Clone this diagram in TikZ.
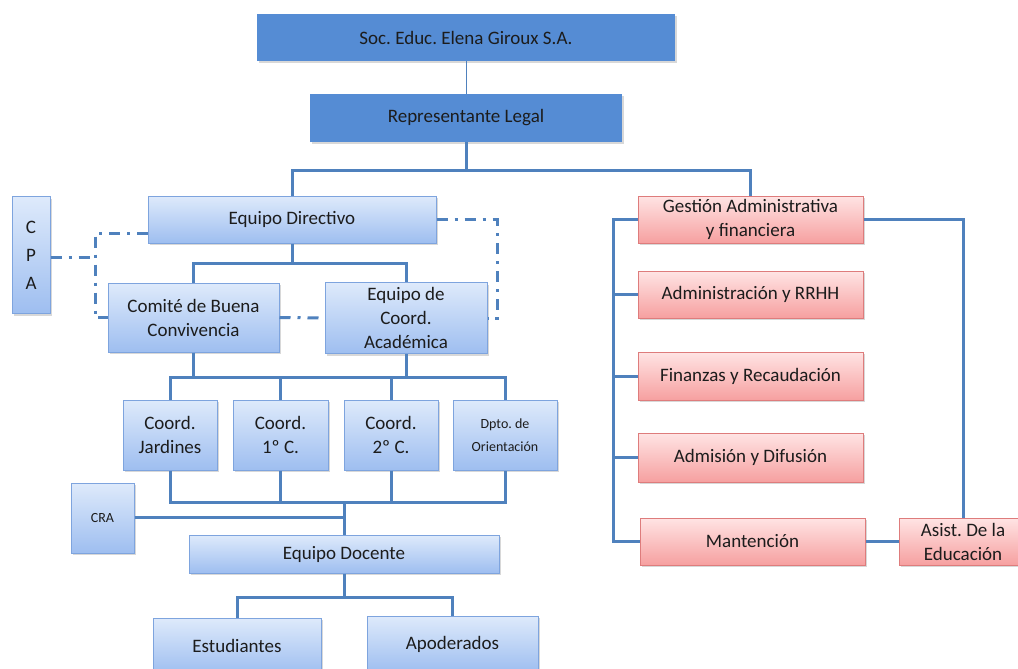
\documentclass[tikz,border=0pt]{standalone}
\usepackage{fontspec}
\setmainfont{Carlito}
\usetikzlibrary{shadows}
\frenchspacing
\definecolor{txtgray}{RGB}{28,28,28}
\definecolor{topblue}{RGB}{85,140,212}
\definecolor{lineblue}{RGB}{79,129,189}
\definecolor{ltop}{RGB}{222,234,251}
\definecolor{lbot}{RGB}{158,190,240}
\definecolor{ldraw}{RGB}{126,164,222}
\definecolor{rtop}{RGB}{255,228,228}
\definecolor{rbot}{RGB}{246,160,160}
\definecolor{rdraw}{RGB}{222,124,124}

\begin{document}
\begin{tikzpicture}[x=1pt,y=-1pt,
    every node/.style={text=txtgray,font=\fontsize{19}{24}\selectfont,
                       align=center,inner sep=0pt},
    shade/.style={drop shadow={opacity=0.3,shadow xshift=2pt,shadow yshift=-2pt}},
    topbox/.style={fill=topblue,shade,minimum height=47pt},
    bluebox/.style={top color=ltop,bottom color=lbot,draw=ldraw,line width=1pt,shade},
    redbox/.style={top color=rtop,bottom color=rbot,draw=rdraw,line width=1pt,shade,
                   minimum width=225pt,minimum height=47pt},
    small/.style={font=\fontsize{14}{23}\selectfont},
    conn/.style={draw=lineblue,line width=3pt},
    dashdot/.style={draw=lineblue,line width=3pt,
                    dash pattern=on 11pt off 7pt on 3pt off 7pt}]

  \fill[white] (0,0) rectangle (1018,669);
  \useasboundingbox (0,0) rectangle (1018,669);

  \node[topbox,minimum width=418pt] (soc)  at (466,37.5) {Soc. Educ. Elena Giroux S.A.};
  \node[topbox,minimum width=312pt,minimum height=48pt] (rl) at (466,118) {Representante Legal};

  \node[bluebox,minimum width=288pt,minimum height=47pt] (ed)   at (292,219.5) {Equipo Directivo};
  \node[bluebox,minimum width=38pt,minimum height=117pt,
        font=\fontsize{19}{28}\selectfont]               (cpa)  at (31,255)    {C\\P\\A};
  \node[bluebox,minimum width=171pt,minimum height=69pt] (cbc)  at (193.5,317.5) {Comité de Buena\\Convivencia};
  \node[bluebox,minimum width=162pt,minimum height=71pt] (eca)  at (406,318) {Equipo de\\Coord.\\Académica};

  \node[bluebox,minimum width=94pt,minimum height=70pt]  (cj)   at (170,435)   {Coord.\\Jardines};
  \node[bluebox,minimum width=95pt,minimum height=70pt]  (c1)   at (280.5,435) {Coord.\\1º C.};
  \node[bluebox,minimum width=94pt,minimum height=70pt]  (c2)   at (391,435)   {Coord.\\2º C.};
  \node[bluebox,small,minimum width=104pt,minimum height=70pt] (dpto) at (505,435) {Dpto. de\\Orientación};
  \node[bluebox,small,minimum width=63pt,minimum height=70pt]  (cra)  at (102.5,518) {CRA};
  \node[bluebox,minimum width=310pt,minimum height=38pt] (edoc) at (344,554)   {Equipo Docente};
  \node[bluebox,minimum width=168pt,minimum height=56pt] (est)  at (237,646)   {Estudiantes};
  \node[bluebox,minimum width=171pt,minimum height=56pt] (apo)  at (452.5,644) {Apoderados};

  \node[redbox]                  (gest)  at (750.5,219.5) {Gestión Administrativa\\y financiera};
  \node[redbox]                  (admin) at (750.5,294.5) {Administración y RRHH};
  \node[redbox,minimum height=48pt] (fin) at (750.5,376)  {Finanzas y Recaudación};
  \node[redbox,minimum height=49pt] (adm) at (750.5,457.5) {Admisión y Difusión};
  \node[redbox]                  (mant)  at (752.5,541.5) {Mantención};
  \node[redbox,minimum width=128pt] (asist) at (963,541.5) {Asist. De la\\Educación};

  \coordinate (r1) at (466,170);
  \coordinate (r2) at (292,263);
  \coordinate (r3) at (300,377);
  \coordinate (r4) at (344,502);
  \coordinate (r5) at (344,597);
  \coordinate (rb) at (613,219.5);
  \coordinate (ra) at (963,219.5);
  \coordinate (dl) at (95,233);
  \coordinate (dc) at (95,257);
  \coordinate (dr) at (497,219.5);

  \draw[draw=lineblue,line width=1pt] (soc) -- (rl);
  \draw[conn] (rl) -- (r1);
  \draw[conn] (ed.north) |- (r1) -| (gest.north);
  \draw[conn] (ed) -- (r2);
  \draw[conn] (cbc.north) |- (r2) -| (eca.north);
  \draw[conn] (cbc.south) -- (cbc.south |- r3);
  \draw[conn] (eca.south) -- (eca.south |- r3);
  \draw[conn] (cj.north) |- (r3) -| (dpto.north);
  \draw[conn] (c1.north) -- (c1.north |- r3);
  \draw[conn] (c2.north) -- (c2.north |- r3);
  \draw[conn] (cj.south) |- (r4) -| (dpto.south);
  \draw[conn] (c1.south) -- (c1.south |- r4);
  \draw[conn] (c2.south) -- (c2.south |- r4);
  \draw[conn] (r4) -- (edoc.north);
  \draw[conn] (cra.east |- 0,517) -- (344,517);
  \draw[conn] (edoc) -- (r5);
  \draw[conn] (est.north) |- (r5) -| (apo.north);

  \draw[conn] (gest.west) -- (rb) |- (mant.west);
  \draw[conn] (admin.west) -- (admin.west -| rb);
  \draw[conn] (fin.west) -- (fin.west -| rb);
  \draw[conn] (adm.west) -- (adm.west -| rb);
  \draw[conn] (gest.east) -- (ra) -- (asist.north);
  \draw[conn] (mant.east) -- (asist.west);

  \draw[dashdot] (ed.west |- dl) -- (dl) |- (cbc.west);
  \draw[dashdot] (cpa.east |- dc) -- (dc);
  \draw[dashdot] (ed.east) -- (dr) |- (eca.east);
  \draw[dashdot] (cbc.east) -- (eca.west);
\end{tikzpicture}
\end{document}
